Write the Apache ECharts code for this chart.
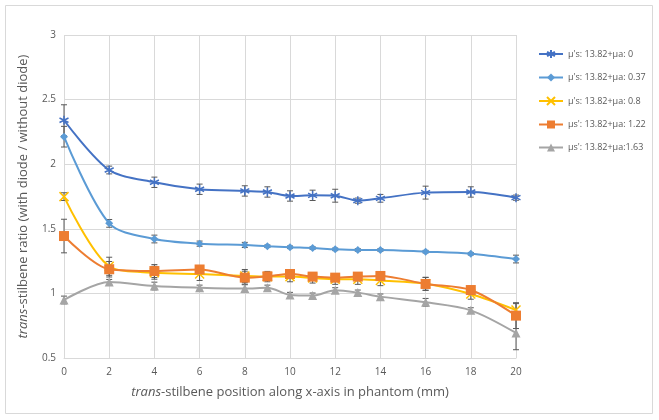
<!DOCTYPE html>
<html><head><meta charset="utf-8">
<script src="https://cdn.jsdelivr.net/npm/echarts@6/dist/echarts.min.js"></script>
<style>html,body{margin:0;padding:0;background:#fff}#c{width:659px;height:420px}</style>
</head><body><div id="c"></div>
<script>
const positions = [0,2,4,6,8,9,10,11,12,13,14,16,18,20];
const seriesNames = [
  "µ's: 13.82+µa: 0",
  "µ's: 13.82+µa: 0.37",
  "µ's: 13.82+µa: 0.8",
  "µs': 13.82+µa: 1.22",
  "µs': 13.82+µa:1.63"
];
const mua0    = [2.34,1.955,1.86,1.806,1.793,1.785,1.754,1.759,1.756,1.718,1.736,1.78,1.785,1.741];
const mua037  = [2.213,1.542,1.421,1.385,1.375,1.365,1.357,1.351,1.341,1.336,1.336,1.323,1.307,1.266];
const mua08   = [1.749,1.21,1.16,1.15,1.135,1.13,1.13,1.12,1.11,1.11,1.10,1.075,0.995,0.871];
const mua122  = [1.444,1.187,1.173,1.185,1.122,1.132,1.15,1.13,1.122,1.13,1.135,1.073,1.026,0.828];
const mua163  = [0.949,1.088,1.057,1.044,1.037,1.044,0.988,0.983,1.024,1.006,0.975,0.931,0.869,0.694];
const err0    = [0.12,0.03,0.04,0.04,0.04,0.04,0.04,0.04,0.05,0.02,0.03,0.05,0.04,0.02];
const err037  = [0.08,0.03,0.03,0.02,0.02,0.01,0.01,0.01,0.01,0.01,0.01,0.01,0.01,0.03];
const err08   = [0.03,0.07,0.05,0.05,0.05,0.04,0.04,0.04,0.04,0.04,0.04,0.05,0.04,0.05];
const err122  = [0.13,0.06,0.05,0.03,0.05,0.03,0.03,0.03,0.03,0.03,0.03,0.05,0.03,0.1];
const err163  = [0.03,0.02,0.03,0.02,0.03,0.02,0.02,0.02,0.02,0.02,0.02,0.03,0.02,0.13];
const xTicks = [0,2,4,6,8,10,12,14,16,18,20];
const yTicks = [0.5,1,1.5,2,2.5,3];

const colors = ['#4472C4','#5B9BD5','#FFC000','#ED7D31','#A5A5A5'];
const values = [mua0,mua037,mua08,mua122,mua163];
const errors = [err0,err037,err08,err122,err163];
const symbols = [
  'path://M0,-5L0,5M-4.3,-2.5L4.3,2.5M-4.3,2.5L4.3,-2.5',
  'diamond',
  'path://M-4,-4L4,4M-4,4L4,-4',
  'rect',
  'triangle'
];
const symbolSizes = [9,8,9,10,9];
const strokeOnly = [true,false,true,false,false];

const series = [];
values.forEach((vals, i) => {
  series.push({
    name: seriesNames[i], type: 'line', smooth: 0.3,
    data: positions.map((x, j) => [x, vals[j]]),
    symbol: symbols[i], symbolSize: symbolSizes[i], showSymbol: true,
    lineStyle: { color: colors[i], width: 2 },
    itemStyle: strokeOnly[i]
      ? { color: colors[i], borderColor: colors[i], borderWidth: 1.5 }
      : { color: colors[i], borderColor: colors[i], borderWidth: 0 },
    z: 3
  });
});
values.forEach((vals, i) => {
  series.push({
    type: 'custom', silent: true, z: 2,
    data: positions.map((x, j) => [x, vals[j] - errors[i][j], vals[j] + errors[i][j]]),
    renderItem: function (params, api) {
      const lo = api.coord([api.value(0), api.value(1)]);
      const hi = api.coord([api.value(0), api.value(2)]);
      const w = 3;
      return {
        type: 'group',
        children: [
          { type: 'line', shape: { x1: lo[0], y1: lo[1], x2: hi[0], y2: hi[1] }, style: { stroke: '#595959', lineWidth: 1 } },
          { type: 'line', shape: { x1: lo[0]-w, y1: lo[1], x2: lo[0]+w, y2: lo[1] }, style: { stroke: '#595959', lineWidth: 1 } },
          { type: 'line', shape: { x1: hi[0]-w, y1: hi[1], x2: hi[0]+w, y2: hi[1] }, style: { stroke: '#595959', lineWidth: 1 } }
        ]
      };
    }
  });
});

const chart = echarts.init(document.getElementById('c'));
chart.setOption({
  animation: false,
  backgroundColor: '#fff',
  textStyle: { fontFamily: 'Open Sans, Liberation Sans, sans-serif' },
  graphic: [{
    type: 'rect', shape: { x: 5.5, y: 5.5, width: 647, height: 408 },
    style: { fill: 'none', stroke: '#d9d9d9', lineWidth: 1 }, silent: true
  }],
  grid: { left: 64, right: 143, top: 35, bottom: 62 },
  legend: {
    orient: 'vertical', left: 533, top: 44, itemGap: 14,
    itemWidth: 24, itemHeight: 10,
    textStyle: { color: '#595959', fontSize: 9, fontFamily: 'Open Sans, sans-serif' },
    data: seriesNames
  },
  xAxis: {
    type: 'value', min: xTicks[0], max: xTicks[xTicks.length-1], interval: 2,
    name: '{i|trans}-stilbene position along x-axis in phantom (mm)',
    nameLocation: 'middle', nameGap: 28,
    nameTextStyle: { color: '#595959', fontSize: 13, rich: { i: { fontStyle: 'italic', fontSize: 13, color: '#595959' } } },
    axisLine: { show: true, lineStyle: { color: '#d9d9d9' } },
    axisTick: { show: false },
    axisLabel: { color: '#595959', fontSize: 10, margin: 9 },
    splitLine: { show: true, lineStyle: { color: '#d9d9d9' } }
  },
  yAxis: {
    type: 'value', min: yTicks[0], max: yTicks[yTicks.length-1], interval: 0.5,
    name: '{i|trans}-stilbene ratio (with diode / without diode)',
    nameLocation: 'middle', nameGap: 34,
    nameTextStyle: { color: '#595959', fontSize: 13, rich: { i: { fontStyle: 'italic', fontSize: 13, color: '#595959' } } },
    axisLine: { show: false }, axisTick: { show: false },
    axisLabel: { color: '#595959', fontSize: 10, margin: 8 },
    splitLine: { show: true, lineStyle: { color: '#d9d9d9' } }
  },
  series: series
});
</script></body></html>
